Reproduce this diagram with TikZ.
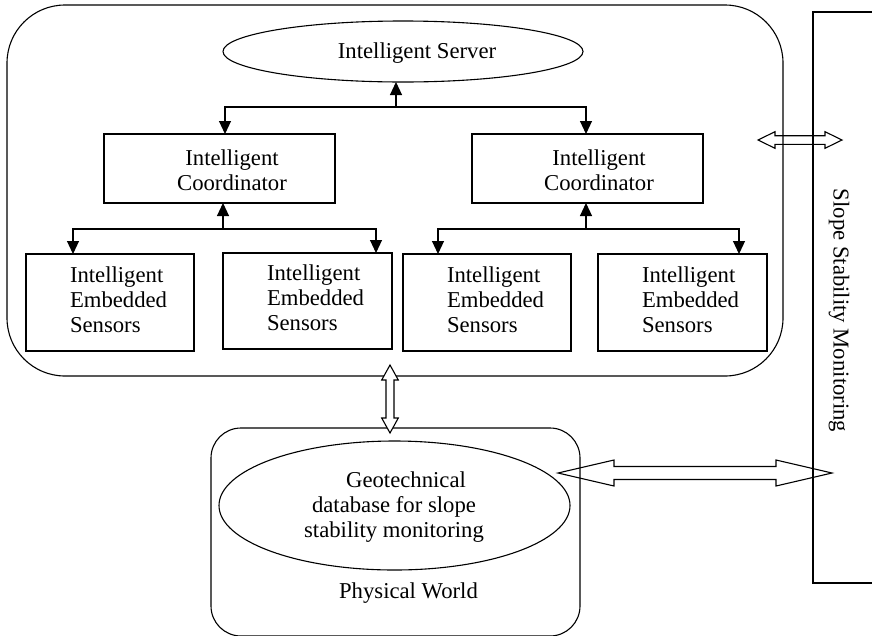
\documentclass[tikz,border=0pt]{standalone}
\usepackage{fontspec}
\setmainfont{Liberation Serif}
\usetikzlibrary{arrows.meta,shapes.geometric}

% hollow double arrow, horizontal: left tip x, right tip x, y, shaft half, head half, head length
\newcommand\hollowH[7][]{%
  \draw[hollow,#1] (#2,#4) -- ({#2+#7},{#4-#6}) -- ({#2+#7},{#4-#5}) -- ({#3-#7},{#4-#5})
    -- ({#3-#7},{#4-#6}) -- (#3,#4) -- ({#3-#7},{#4+#6}) -- ({#3-#7},{#4+#5})
    -- ({#2+#7},{#4+#5}) -- ({#2+#7},{#4+#6}) -- cycle;}
% hollow double arrow, vertical: x, top tip y, bottom tip y, shaft half, head half, head length
\newcommand\hollowV[7][]{%
  \draw[hollow,#1] (#2,#3) -- ({#2+#6},{#3+#7}) -- ({#2+#5},{#3+#7}) -- ({#2+#5},{#4-#7})
    -- ({#2+#6},{#4-#7}) -- (#2,#4) -- ({#2-#6},{#4-#7}) -- ({#2-#5},{#4-#7})
    -- ({#2-#5},{#3+#7}) -- ({#2-#6},{#3+#7}) -- cycle;}

\begin{document}
\begin{tikzpicture}[x=1pt,y=-1pt,line width=1.1pt,
  every node/.style={font=\fontsize{22.7pt}{25pt}\selectfont,inner sep=0pt,outer sep=0pt},
  panel/.style={draw,rectangle,rounded corners=#1},
  box/.style={draw,rectangle},
  oval/.style={draw,ellipse},
  txt/.style={align=center},
  ltxt/.style={align=left,anchor=west},
  arr/.style={-{Triangle[length=13pt,width=12pt]}},
  hollow/.style={line width=1.1pt,line join=miter}]
\useasboundingbox (0,0) rectangle (872,635);

% network panel
\node[panel=58pt,minimum width=776pt,minimum height=371pt] (net) at (395,190.5) {};

% server
\node[oval,minimum width=360pt,minimum height=61pt] (srv) at (403,51.5) {};
\node[anchor=base] (srvt) at (417,58) {Intelligent Server};

% coordinators
\node[box,minimum width=231pt,minimum height=69pt] (lc) at (219.5,168.5) {};
\node[txt] (lct) at (232,170) {Intelligent\\Coordinator};
\node[box,minimum width=231pt,minimum height=69pt] (rc) at (587.5,168.5) {};
\node[txt] (rct) at (599,170) {Intelligent\\Coordinator};

% sensors
\node[box,minimum width=168pt,minimum height=97pt] (s1) at (110,302.5) {};
\node[box,minimum width=169pt,minimum height=96pt] (s2) at (307.5,301) {};
\node[box,minimum width=168pt,minimum height=97pt] (s3) at (487,302.5) {};
\node[box,minimum width=169pt,minimum height=97pt] (s4) at (682.5,302.5) {};
\node[ltxt] (s1t) at (70,300) {Intelligent\\Embedded\\Sensors};
\node[ltxt] (s2t) at (267,298) {Intelligent\\Embedded\\Sensors};
\node[ltxt] (s3t) at (447,300) {Intelligent\\Embedded\\Sensors};
\node[ltxt] (s4t) at (642,300) {Intelligent\\Embedded\\Sensors};

% tree connectors
\coordinate (jS) at (396,107);
\draw[arr] (jS) -- (jS |- srv.south);
\draw[arr] (jS) -| ([xshift=5.5pt]lc.north);
\draw[arr] (jS) -| ([xshift=-1.5pt]rc.north);

\coordinate (jL) at (223,229);
\draw[arr] (jL) -- (jL |- lc.south);
\draw[arr] (jL) -| ([xshift=-37pt]s1.north);
\draw[arr] (jL) -| ([xshift=68.5pt]s2.north);

\coordinate (jR) at (586,229);
\draw[arr] (jR) -- (jR |- rc.south);
\draw[arr] (jR) -| ([xshift=-49pt]s3.north);
\draw[arr] (jR) -| ([xshift=56.5pt]s4.north);

% physical world
\node[panel=30pt,minimum width=369pt,minimum height=208pt] (world) at (395.5,532) {};
\node[oval,minimum width=351pt,minimum height=129pt] (db) at (394.5,505.5) {};
\node[txt] (dbt) at (394,507) {\hspace*{24pt}Geotechnical\\database for slope\\stability monitoring};
\node[anchor=base] (wt) at (408.5,598) {Physical World};

% slope stability monitoring panel (runs off the right edge)
\draw (872,12) -- (813,12) -- (813,583) -- (872,583);
\node[rotate=-90] (ssm) at (839,310.5) {Slope Stability Monitoring};

% hollow double arrows
\hollowH{758}{842}{140}{4.3}{8.3}{17}
\hollowH{558}{832}{473}{6.5}{13}{56}
\hollowV[fill=white]{390}{365}{433}{4}{8.3}{15}
\end{tikzpicture}
\end{document}
